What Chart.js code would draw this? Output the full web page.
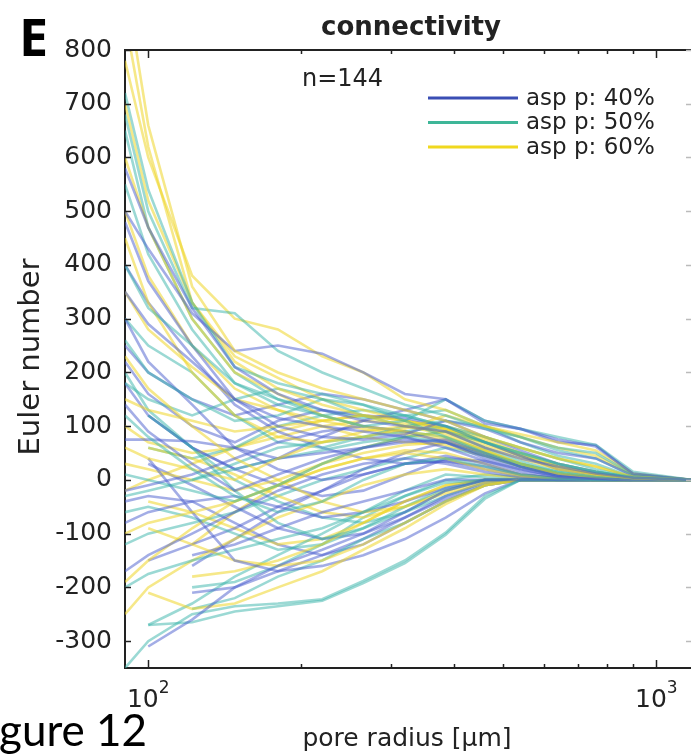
<!DOCTYPE html>
<html>
<head>
<meta charset="utf-8">
<script src="https://cdn.jsdelivr.net/npm/chart.js@4/dist/chart.umd.min.js"></script>
<style>
html,body{margin:0;padding:0;background:#fff;}
#wrap{position:relative;width:691px;height:755px;}
canvas{display:block;}
</style>
</head>
<body>
<div id="wrap"><canvas id="c" width="691" height="755"></canvas></div>
<script>
// ---- data ----
const radii = [90, 100, 122, 148, 180, 220, 265, 320, 385, 460, 540, 640, 760, 900, 1170];
const groupNames = ['asp p: 40%', 'asp p: 50%', 'asp p: 60%'];
const sampleCount = 'n=144';
const yTicks = [800, 700, 600, 500, 400, 300, 200, 100, 0, -100, -200, -300];
const xMajorTicks = [100, 1000];
const xMinorTicks = [200, 300, 400, 500, 600, 700, 800, 900];

const asp40 = [
  [580, 470, 320, 210, 160, 130, 110, 100, 90, 60, 40, 25, 12, 4, 0],
  [500, 430, 310, 240, 250, 235, 200, 160, 150, 105, 95, 75, 62, 12, 0],
  [350, 290, 220, 150, 115, 100, 90, 80, 60, 35, 15, 5, 2, 0, 0],
  [480, 370, 250, 150, 100, 80, 75, 85, 110, 95, 70, 50, 40, 8, 0],
  [140, 90, 30, -20, 10, 40, 60, 75, 70, 40, 20, 8, 3, 0, 0],
  [-20, -10, 10, 40, 70, 90, 100, 90, 70, 45, 25, 10, 4, 0, 0],
  [null, -310, -260, -200, -160, -130, -100, -60, -20, 0, 0, 0, 0, 0, 0],
  [-170, -140, -100, -60, -20, 10, 30, 40, 30, 15, 5, 0, 0, 0, 0],
  [null, 40, -60, -150, -170, -160, -140, -110, -70, -25, 0, 0, 0, 0, 0],
  [null, null, -140, -120, -90, -60, -40, -20, 0, 0, 0, 0, 0, 0, 0],
  [300, 220, 140, 60, 20, 0, 10, 30, 45, 30, 10, 3, 0, 0, 0],
  [75, 75, 72, 60, 40, 50, 60, 70, 75, 50, 25, 10, 3, 0, 0],
  [null, null, -210, -200, -170, -140, -110, -70, -30, -5, 0, 0, 0, 0, 0],
  [220, 160, 100, 70, 110, 130, 120, 115, 100, 70, 45, 20, 10, 2, 0],
  [-80, -60, -40, -30, -50, -70, -60, -40, -15, 0, 0, 0, 0, 0, 0],
  [null, 30, -10, -50, -90, -110, -100, -70, -35, -10, 0, 0, 0, 0, 0],
  [400, 330, 230, 140, 90, 60, 40, 30, 35, 25, 10, 3, 0, 0, 0],
  [null, -150, -120, -90, -50, -20, 10, 30, 35, 20, 8, 2, 0, 0, 0],
  [null, 120, 60, 20, 40, 80, 110, 130, 150, 110, 95, 70, 65, 10, 0],
  [250, 200, 150, 120, 140, 160, 150, 130, 110, 80, 55, 30, 15, 3, 0],
  [null, null, -160, -110, -60, -20, 20, 50, 70, 50, 25, 8, 2, 0, 0],
  [-40, -30, -40, -80, -120, -140, -120, -80, -40, -10, 0, 0, 0, 0, 0],
  [180, 120, 60, 20, -10, -30, -20, 10, 40, 35, 20, 6, 1, 0, 0]
];
const asp50 = [
  [720, 540, 330, 210, 180, 160, 140, 120, 100, 70, 50, 30, 15, 5, 0],
  [680, 500, 320, 310, 240, 200, 170, 140, 120, 95, 80, 60, 50, 10, 0],
  [400, 320, 250, 180, 140, 120, 100, 110, 150, 110, 95, 80, 65, 15, 0],
  [260, 200, 150, 110, 120, 150, 140, 110, 80, 50, 30, 15, 6, 0, 0],
  [120, 80, 20, -30, -60, -40, 0, 30, 40, 25, 10, 3, 0, 0, 0],
  [10, 0, -20, -40, -10, 30, 60, 80, 70, 45, 25, 10, 4, 0, 0],
  [-350, -300, -250, -235, -230, -222, -188, -150, -98, -30, 0, 0, 0, 0, 0],
  [null, -270, -265, -245, -235, -225, -192, -155, -102, -35, 0, 0, 0, 0, 0],
  [-200, -175, -150, -130, -110, -90, -60, -30, -5, 0, 0, 0, 0, 0, 0],
  [null, null, -240, -220, -180, -150, -110, -80, -40, -10, 0, 0, 0, 0, 0],
  [180, 150, 120, 150, 170, 150, 120, 100, 90, 70, 50, 30, 15, 5, 0],
  [-30, -20, 0, 20, 40, 55, 70, 80, 90, 60, 35, 15, 5, 0, 0],
  [null, 120, 60, -20, -80, -110, -90, -60, -20, 0, 0, 0, 0, 0, 0],
  [300, 250, 200, 120, 70, 60, 80, 100, 110, 100, 70, 45, 30, 5, 0],
  [-60, -50, -70, -100, -130, -120, -90, -50, -15, 0, 0, 0, 0, 0, 0],
  [null, null, 0, 30, 60, 70, 80, 90, 100, 80, 60, 40, 20, 5, 0],
  [650, 470, 300, 200, 150, 120, 100, 90, 80, 55, 30, 12, 4, 0, 0],
  [null, -270, -230, -180, -140, -100, -60, -20, 10, 5, 0, 0, 0, 0, 0],
  [550, 420, 280, 180, 150, 130, 115, 120, 130, 100, 80, 55, 40, 8, 0],
  [null, 60, 40, 60, 100, 120, 130, 120, 100, 70, 45, 25, 12, 3, 0],
  [-120, -100, -80, -60, -30, 0, 20, 40, 60, 45, 25, 8, 2, 0, 0],
  [200, 130, 60, 0, -40, -70, -80, -60, -30, -5, 0, 0, 0, 0, 0],
  [null, null, -200, -190, -160, -120, -70, -30, 0, 10, 5, 0, 0, 0, 0]
];
const asp60 = [
  [930, 660, 360, 240, 200, 170, 150, 130, 110, 80, 60, 40, 25, 6, 0],
  [860, 620, 330, 220, 170, 140, 120, 100, 90, 60, 40, 20, 10, 3, 0],
  [780, 600, 380, 300, 280, 230, 200, 150, 130, 100, 85, 70, 55, 12, 0],
  [600, 470, 300, 200, 160, 120, 100, 90, 80, 55, 30, 12, 5, 0, 0],
  [450, 330, 200, 120, 80, 70, 80, 95, 120, 100, 80, 60, 45, 10, 0],
  [60, 40, 20, 0, 40, 70, 90, 100, 85, 55, 30, 12, 4, 0, 0],
  [-100, -80, -60, -40, -10, 20, 40, 50, 40, 20, 8, 2, 0, 0, 0],
  [null, -210, -240, -230, -200, -170, -130, -90, -45, -10, 0, 0, 0, 0, 0],
  [null, -90, -120, -150, -160, -150, -120, -80, -40, -10, 0, 0, 0, 0, 0],
  [230, 170, 100, 40, 0, -40, -60, -50, -25, -5, 0, 0, 0, 0, 0],
  [-190, -150, -90, -40, -10, 20, 40, 55, 50, 30, 10, 3, 0, 0, 0],
  [150, 130, 110, 90, 100, 110, 120, 110, 95, 75, 50, 25, 10, 2, 0],
  [null, null, -180, -170, -150, -120, -80, -40, -10, 0, 0, 0, 0, 0, 0],
  [30, 20, 0, -20, 0, 30, 50, 65, 70, 50, 30, 12, 5, 0, 0],
  [null, 60, 40, 10, -30, -60, -70, -50, -20, 0, 0, 0, 0, 0, 0],
  [350, 280, 210, 150, 130, 110, 95, 85, 75, 50, 30, 12, 5, 1, 0],
  [700, 520, 330, 230, 190, 150, 130, 110, 95, 65, 45, 25, 12, 3, 0],
  [-250, -200, -150, -110, -70, -40, -10, 10, 20, 10, 3, 0, 0, 0, 0],
  [500, 380, 250, 170, 130, 100, 80, 70, 65, 45, 25, 10, 3, 0, 0],
  [100, 70, 50, 60, 80, 100, 110, 105, 95, 70, 45, 20, 8, 1, 0],
  [null, -40, -60, -90, -120, -110, -80, -40, -10, 0, 0, 0, 0, 0, 0],
  [-20, 0, 30, 60, 90, 110, 120, 110, 100, 80, 60, 40, 25, 5, 0],
  [null, null, -120, -60, -10, 30, 60, 80, 90, 70, 50, 30, 15, 3, 0]
];

// ---- styling ----
const solidColors = ['rgb(58,78,180)', 'rgb(62,182,152)', 'rgb(240,216,30)'];
const lineColors = ['rgba(72,92,205,0.5)', 'rgba(55,180,170,0.5)', 'rgba(238,214,40,0.55)'];
const groups = [asp40, asp50, asp60];

const datasets = [];
const maxLen = Math.max(asp40.length, asp50.length, asp60.length);
for (let k = 0; k < maxLen; k++) {
  groups.forEach((g, gi) => {
    if (!g[k]) return;
    datasets.push({
      label: groupNames[gi],
      data: radii.map((r, i) => ({x: r, y: g[k][i]})),
      borderColor: lineColors[gi],
      borderWidth: 2.6,
      pointRadius: 0,
      tension: 0,
      fill: false,
      spanGaps: false
    });
  });
}

const TICK = '#222';
const decor = {
  id: 'decor',
  afterDraw(chart) {
    const {ctx, chartArea: a, scales: {x, y}} = chart;
    ctx.save();
    // top border
    ctx.strokeStyle = TICK; ctx.lineWidth = 2;
    ctx.beginPath(); ctx.moveTo(a.left, a.top); ctx.lineTo(a.right, a.top); ctx.stroke();
    // inward ticks
    ctx.lineWidth = 1.5;
    yTicks.forEach(v => {
      const py = Math.round(y.getPixelForValue(v)) + 0.5;
      ctx.strokeStyle = TICK;
      ctx.beginPath(); ctx.moveTo(a.left, py); ctx.lineTo(a.left + 6, py); ctx.stroke();
      ctx.strokeStyle = '#bbb';
      ctx.beginPath(); ctx.moveTo(a.right - 5, py); ctx.lineTo(a.right, py); ctx.stroke();
    });
    ctx.strokeStyle = TICK;
    xMajorTicks.forEach(v => {
      const px = Math.round(x.getPixelForValue(v)) + 0.5;
      ctx.beginPath(); ctx.moveTo(px, a.bottom); ctx.lineTo(px, a.bottom - 8); ctx.stroke();
      ctx.beginPath(); ctx.moveTo(px, a.top); ctx.lineTo(px, a.top + 8); ctx.stroke();
    });
    xMinorTicks.forEach(v => {
      const px = Math.round(x.getPixelForValue(v)) + 0.5;
      ctx.beginPath(); ctx.moveTo(px, a.bottom); ctx.lineTo(px, a.bottom - 4); ctx.stroke();
      ctx.beginPath(); ctx.moveTo(px, a.top); ctx.lineTo(px, a.top + 4); ctx.stroke();
    });
    // x tick labels 10^2, 10^3
    ctx.fillStyle = TICK;
    xMajorTicks.forEach(v => {
      const px = x.getPixelForValue(v);
      const exp = String(Math.round(Math.log10(v)));
      ctx.font = '25px "DejaVu Sans"';
      const w1 = ctx.measureText('10').width;
      ctx.font = '17px "DejaVu Sans"';
      const w2 = ctx.measureText(exp).width;
      const x0 = px - (w1 + w2) / 2;
      ctx.textAlign = 'left'; ctx.textBaseline = 'alphabetic';
      ctx.font = '25px "DejaVu Sans"';
      ctx.fillText('10', x0, 707);
      ctx.font = '17px "DejaVu Sans"';
      ctx.fillText(exp, x0 + w1, 693);
    });
    // axis titles
    ctx.font = '25px "DejaVu Sans"';
    ctx.textAlign = 'center';
    ctx.fillText('pore radius [\u03bcm]', 407, 746);
    ctx.save();
    ctx.translate(39, 357);
    ctx.rotate(-Math.PI / 2);
    ctx.font = '29px "DejaVu Sans"';
    ctx.fillText('Euler number', 0, 0);
    ctx.restore();
    // title
    ctx.font = 'bold 26px "DejaVu Sans"';
    ctx.textAlign = 'center';
    ctx.fillText('connectivity', 411, 35);
    // n label
    ctx.font = '24px "DejaVu Sans"';
    ctx.textAlign = 'left';
    ctx.fillText(sampleCount, 302, 86);
    // legend
    groupNames.forEach((nm, i) => {
      const ly = 98 + i * 24.5;
      ctx.strokeStyle = solidColors[i];
      ctx.lineWidth = 3;
      ctx.beginPath(); ctx.moveTo(428, ly); ctx.lineTo(518, ly); ctx.stroke();
      ctx.fillStyle = TICK;
      ctx.font = '23px "DejaVu Sans"';
      ctx.textBaseline = 'middle';
      ctx.fillText(nm, 526, ly + 1);
    });
    ctx.textBaseline = 'alphabetic';
    // panel letter and figure caption fragment
    ctx.fillStyle = '#000';
    ctx.font = 'bold 52px "Open Sans"';
    ctx.fillText('E', 19, 56);
    ctx.font = '44px Lato';
    ctx.fillText('gure 12', -1, 746);
    ctx.restore();
  }
};

new Chart(document.getElementById('c'), {
  type: 'line',
  data: {datasets},
  options: {
    responsive: false,
    animation: false,
    devicePixelRatio: 1,
    layout: {padding: {top: 50, left: 0, right: 0, bottom: 0}},
    plugins: {legend: {display: false}, tooltip: {enabled: false}, title: {display: false}},
    scales: {
      x: {
        type: 'logarithmic',
        min: 90, max: 1170,
        grid: {drawOnChartArea: false, drawTicks: false},
        border: {display: true, color: TICK, width: 2},
        ticks: {display: false},
        afterFit(s) { s.height = 87; }
      },
      y: {
        type: 'linear',
        min: -350, max: 800,
        grid: {drawOnChartArea: false, drawTicks: false},
        border: {display: true, color: TICK, width: 2},
        afterBuildTicks(s) { s.ticks = yTicks.slice().reverse().map(v => ({value: v})); },
        ticks: {
          color: TICK, padding: 13,
          font: {family: '"DejaVu Sans"', size: 25},
          callback: v => String(v)
        },
        afterFit(s) { s.width = 125; }
      }
    }
  },
  plugins: [decor]
});
</script>
</body>
</html>
